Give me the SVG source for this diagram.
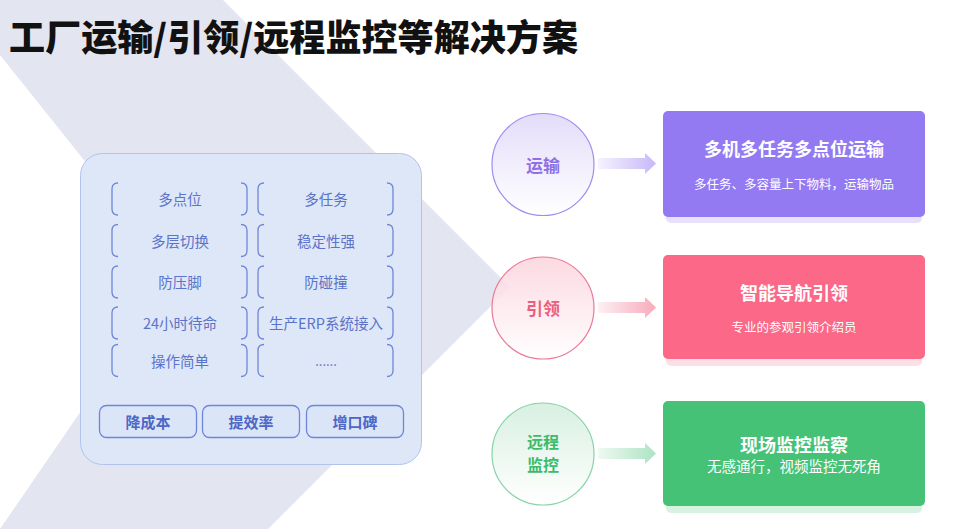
<svg xmlns="http://www.w3.org/2000/svg" xmlns:xlink="http://www.w3.org/1999/xlink" width="963" height="529" viewBox="0 0 963 529">
<style>
text{font-family:"Noto Sans CJK SC","Noto Sans",sans-serif;text-anchor:middle;dominant-baseline:central}
.title{font-size:36.5px;font-weight:900;fill:#111;text-anchor:start;dominant-baseline:alphabetic}
.cell{font-size:14.5px;fill:#5b73c9}
.br{fill:none;stroke:#6f86d8;stroke-width:1.3}
.btn{fill:#dbe5f8;stroke:#6f86d8;stroke-width:1.3}
.btnt{font-size:15px;font-weight:700;fill:#4d67c6}
.ct{font-size:17px;font-weight:700}
.kt{font-size:18px;font-weight:700;fill:#fff}
.ks{font-size:12.5px;fill:#fff}
</style>
<defs>
<g id="cellframe"><path class="br" d="M6,0 Q0,0 0,6 V26 Q0,32 6,32 M129,0 Q135,0 135,6 V26 Q135,32 129,32"/></g>
<linearGradient id="gP" x1="0" y1="0" x2="0" y2="1"><stop offset="0" stop-color="#e2daf9" stop-opacity="0.95"/><stop offset="1" stop-color="#ffffff" stop-opacity="0.9"/></linearGradient>
<linearGradient id="gR" x1="0" y1="0" x2="0" y2="1"><stop offset="0" stop-color="#fbd3dd" stop-opacity="0.85"/><stop offset="1" stop-color="#ffffff" stop-opacity="0.9"/></linearGradient>
<linearGradient id="gG" x1="0" y1="0" x2="0" y2="1"><stop offset="0" stop-color="#d6efe0" stop-opacity="0.95"/><stop offset="1" stop-color="#ffffff" stop-opacity="0.9"/></linearGradient>
<linearGradient id="aP" x1="0" y1="0" x2="1" y2="0"><stop offset="0" stop-color="#f6f3fe"/><stop offset="1" stop-color="#c6b8f8"/></linearGradient>
<linearGradient id="aR" x1="0" y1="0" x2="1" y2="0"><stop offset="0" stop-color="#fdf0f3"/><stop offset="1" stop-color="#f8aabb"/></linearGradient>
<linearGradient id="aG" x1="0" y1="0" x2="1" y2="0"><stop offset="0" stop-color="#eef9f2"/><stop offset="1" stop-color="#aee3c4"/></linearGradient>
</defs>
<rect width="963" height="529" fill="#fff"/>
<path id="chevron" d="M0,0 L223,0 L510,287 L268,529 L0,529 L175,274 L0,55 Z" fill="#e3e5f1"/>
<text class="title" x="9" y="51" textLength="569" lengthAdjust="spacingAndGlyphs">工厂运输/引领/远程监控等解决方案</text>

<g id="panel">
<rect x="80.5" y="153.5" width="341" height="311" rx="22" fill="#dde7f8" stroke="#b2c4ee" stroke-width="1"/>
<use xlink:href="#cellframe" x="112" y="183"/><text class="cell" x="180" y="198.5">多点位</text>
<use xlink:href="#cellframe" x="258" y="183"/><text class="cell" x="326" y="198.5">多任务</text>
<use xlink:href="#cellframe" x="112" y="224.5"/><text class="cell" x="180" y="240">多层切换</text>
<use xlink:href="#cellframe" x="258" y="224.5"/><text class="cell" x="326" y="240">稳定性强</text>
<use xlink:href="#cellframe" x="112" y="266"/><text class="cell" x="180" y="281.5">防压脚</text>
<use xlink:href="#cellframe" x="258" y="266"/><text class="cell" x="326" y="281.5">防碰撞</text>
<use xlink:href="#cellframe" x="112" y="307"/><text class="cell" x="180" y="322.5">24小时待命</text>
<use xlink:href="#cellframe" x="258" y="307"/><text class="cell" x="326" y="322.5">生产ERP系统接入</text>
<use xlink:href="#cellframe" x="112" y="344.5"/><text class="cell" x="180" y="360">操作简单</text>
<use xlink:href="#cellframe" x="258" y="344.5"/><text class="cell" x="326" y="360" style="font-size:13px">......</text>
<rect class="btn" x="99.5" y="405.5" width="97" height="32" rx="7"/><text class="btnt" x="148" y="421">降成本</text>
<rect class="btn" x="202.5" y="405.5" width="97" height="32" rx="7"/><text class="btnt" x="251" y="421">提效率</text>
<rect class="btn" x="306.5" y="405.5" width="97" height="32" rx="7"/><text class="btnt" x="355" y="421">增口碑</text>
</g>

<g id="c-yunshu">
<circle cx="543" cy="164.5" r="51" fill="url(#gP)" stroke="#9f8cf0" stroke-width="1.2"/>
<text class="ct" x="543" y="164" fill="#8c70e8">运输</text>
</g>
<g id="c-yinling">
<circle cx="543" cy="308" r="51" fill="url(#gR)" stroke="#ec7893" stroke-width="1.2"/>
<text class="ct" x="543" y="307" fill="#ec5e80">引领</text>
</g>
<g id="c-jiankong">
<circle cx="543" cy="454" r="51" fill="url(#gG)" stroke="#86d3a6" stroke-width="1.2"/>
<text class="ct" x="543" y="440.5" fill="#3dbb6b" style="font-size:16px">远程</text>
<text class="ct" x="543" y="464" fill="#3dbb6b" style="font-size:16px">监控</text>
</g>

<g id="connectors">
<path d="M598,158 H645 V153 L656,163.5 L645,174 V169 H598 Z" fill="url(#aP)"/>
<path d="M598,302 H645 V297 L656,307.5 L645,318 V313 H598 Z" fill="url(#aR)"/>
<path d="M598,448 H645 V443 L656,453.5 L645,464 V459 H598 Z" fill="url(#aG)"/>
</g>

<g id="k-yunshu">
<rect x="666" y="118" width="256" height="105" rx="5" fill="#e7e1fc"/>
<rect x="663" y="111" width="262" height="106" rx="5" fill="#937af3"/>
<text class="kt" x="794" y="148">多机多任务多点位运输</text>
<text class="ks" x="794" y="183">多任务、多容量上下物料，运输物品</text>
</g>
<g id="k-yinling">
<rect x="666" y="262" width="256" height="104" rx="5" fill="#fde0e6"/>
<rect x="663" y="255" width="262" height="104" rx="5" fill="#fb6888"/>
<text class="kt" x="794" y="292">智能导航引领</text>
<text class="ks" x="794" y="326">专业的参观引领介绍员</text>
</g>
<g id="k-jiankong">
<rect x="666" y="408" width="256" height="105" rx="5" fill="#d6f2e1"/>
<rect x="663" y="401" width="262" height="105" rx="5" fill="#46c277"/>
<text class="kt" x="794" y="444">现场监控监察</text>
<text class="ks" x="794" y="465" style="font-size:14.5px">无感通行，视频监控无死角</text>
</g>
</svg>
